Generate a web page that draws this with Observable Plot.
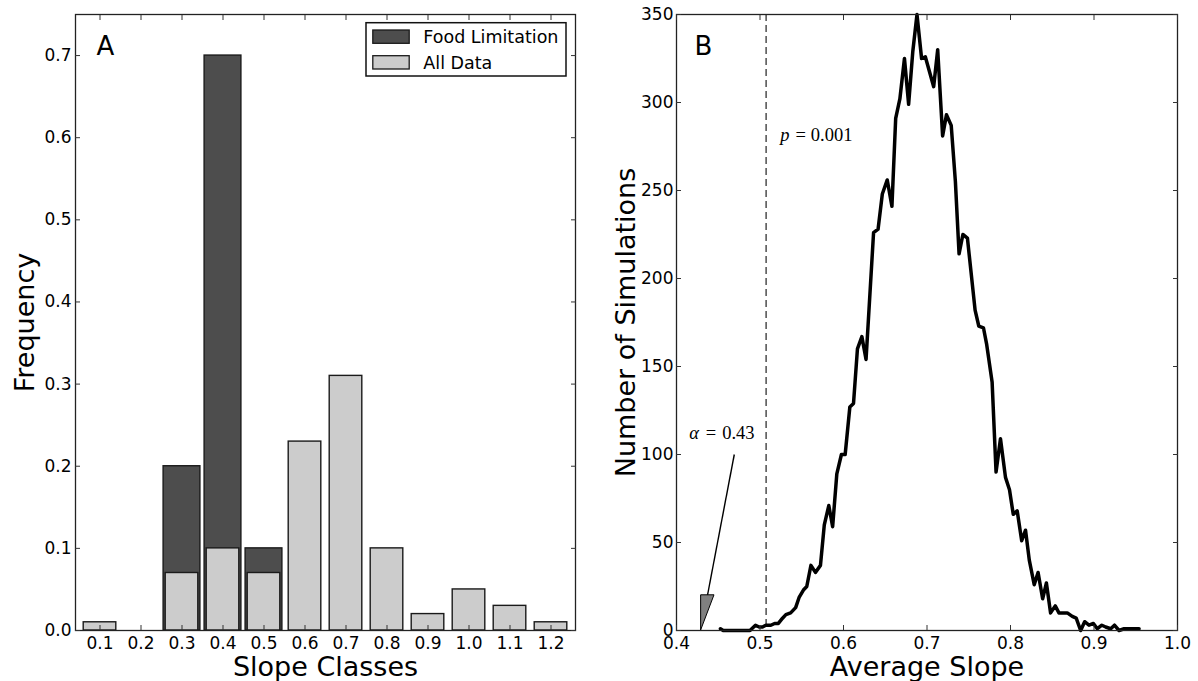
<!DOCTYPE html>
<html>
<head>
<meta charset="utf-8">
<script src="https://cdn.jsdelivr.net/npm/d3@7"></script>
<script src="https://cdn.jsdelivr.net/npm/@observablehq/plot@0.6"></script>
<style>
  html, body { margin: 0; padding: 0; background: #fff; }
  #wrap { position: relative; width: 1198px; height: 681px; display: flex; flex-direction: row; }
  #wrap svg { display: block; }
</style>
</head>
<body>
<div id="wrap"></div>
<script>
// ---------- Panel A data ----------
const slopeClasses = ["0.1","0.2","0.3","0.4","0.5","0.6","0.7","0.8","0.9","1.0","1.1","1.2"];
const allDataFreq = [0.01, 0.00, 0.07, 0.10, 0.07, 0.23, 0.31, 0.10, 0.02, 0.05, 0.03, 0.01];
const foodLimitationFreq = [0, 0, 0.20, 0.70, 0.10, 0, 0, 0, 0, 0, 0, 0];
const freqTicks = [0, 0.1, 0.2, 0.3, 0.4, 0.5, 0.6, 0.7];
const legendLabels = ["Food Limitation", "All Data"];

// ---------- Panel B data ----------
const avgSlope = [0.4526,0.456,0.465,0.475,0.488,0.4946,0.499,0.503,0.507,0.513,0.5175,0.522,0.527,0.531,0.5367,0.5427,0.547,0.552,0.556,0.561,0.5664,0.5724,0.577,0.5824,0.587,0.592,0.5975,0.602,0.6076,0.612,0.6167,0.622,0.627,0.636,0.6414,0.6465,0.6524,0.658,0.6625,0.6675,0.673,0.678,0.683,0.688,0.6935,0.698,0.708,0.7128,0.7187,0.7233,0.729,0.734,0.7384,0.743,0.7484,0.7576,0.762,0.7676,0.7713,0.778,0.7827,0.788,0.794,0.7988,0.8033,0.808,0.8134,0.818,0.8225,0.8284,0.833,0.8385,0.843,0.848,0.8536,0.858,0.8636,0.868,0.874,0.8787,0.884,0.8888,0.894,0.8993,0.904,0.9094,0.914,0.92,0.9245,0.93,0.936,0.9405,0.954];
const numSimulations = [1,0,0,0,0,3,2,2,3,3,4,4,7,9,10,13,19,23,25,37,33,37,60,71,59,89,100,100,127,129,160,167,154,226,228,248,256,241,291,302,325,299,329,350,325,326,309,330,281,293,287,255,214,225,223,182,173,172,163,141,90,109,87,80,66,68,51,57,40,26,33,18,27,10,14,10,10,10,8,7,0,5,3,4,1,3,2,1,3,0,1,1,1];
const slopeTicks = [0.4, 0.5, 0.6, 0.7, 0.8, 0.9, 1.0];
const simTicks = [0, 50, 100, 150, 200, 250, 300, 350];
const pValueSlope = 0.5073;              // dashed line
const pLabel = {x: 0.5242, y: 278};      // "p = 0.001"
const alphaLabel = {x: 0.4152, y: 109};  // "α = 0.43"
const arrowSeg = [{x1: 0.4692, y1: 100, x2: 0.4371, y2: 20}];
const arrowHead = [{y: 0, x1: 0.4295, x2: 0.4295}, {y: 20, x1: 0.4295, x2: 0.4455}];

const SANS = "DejaVu Sans";
const SERIF = "Liberation Serif";
const TICK_FS = 17;
const LABEL_FS = 27;
const fmt1 = d3.format(".1f");

// ---------- Panel A ----------
const foodBars = slopeClasses.map((c, i) => ({cls: c, v: foodLimitationFreq[i]})).filter(d => d.v > 0);
const allBars = slopeClasses.map((c, i) => ({cls: c, v: allDataFreq[i]})).filter(d => d.v > 0);

const left = Plot.plot({
  width: 600, height: 681,
  marginTop: 14, marginBottom: 51, marginLeft: 75, marginRight: 25,
  style: {fontFamily: SANS, fontSize: "17px", color: "#000", background: "#fff", overflow: "visible"},
  x: {type: "band", domain: slopeClasses, padding: 0},
  y: {domain: [0, 0.75]},
  marks: [
    Plot.barY(foodBars, {x: "cls", y: "v", fill: "#4d4d4d", stroke: "#1a1a1a", strokeWidth: 1.4, insetLeft: 2.1, insetRight: 2.1}),
    Plot.barY(allBars, {x: "cls", y: "v", fill: "#cccccc", stroke: "#1a1a1a", strokeWidth: 1.4, insetLeft: 4.2, insetRight: 4.2}),
    Plot.frame({stroke: "#222", strokeWidth: 1.3}),
    Plot.axisX({anchor: "bottom", tickSize: -5, tickPadding: 11, label: null, stroke: "#333", fontSize: TICK_FS}),
    Plot.axisX({anchor: "top", tickSize: -5, tickFormat: () => "", label: null, stroke: "#333"}),
    Plot.axisY({anchor: "left", ticks: freqTicks, tickFormat: fmt1, tickSize: -5, tickPadding: 9, label: null, stroke: "#333", fontSize: TICK_FS}),
    Plot.axisY({anchor: "right", ticks: freqTicks, tickFormat: () => "", tickSize: -5, label: null, stroke: "#333"}),
    Plot.text([{t: "Slope Classes"}], {text: "t", frameAnchor: "bottom", dy: 45, lineAnchor: "bottom", textAnchor: "middle", fontSize: LABEL_FS, fill: "#000"}),
    Plot.text([{t: "Frequency"}], {text: "t", frameAnchor: "left", dx: -42, rotate: -90, lineAnchor: "bottom", textAnchor: "middle", fontSize: LABEL_FS, fill: "#000"}),
    Plot.text([{t: "A"}], {text: "t", frameAnchor: "top-left", dx: 21, dy: 22.5, lineAnchor: "top", textAnchor: "start", fontSize: 26, fill: "#000"})
  ]
});

// legend for panel A
{
  const g = d3.select(left).append("g")
    .attr("font-family", SANS).attr("font-size", "17.5px").attr("text-anchor", "start");
  g.append("rect").attr("x", 366).attr("y", 22.7).attr("width", 200).attr("height", 53.3)
    .attr("fill", "#fff").attr("stroke", "#111").attr("stroke-width", 1.5);
  const fills = ["#4d4d4d", "#cccccc"];
  legendLabels.forEach((lab, i) => {
    g.append("rect").attr("x", 372.8).attr("y", 30 + i * 25.7).attr("width", 36.4).attr("height", 13.3)
      .attr("fill", fills[i]).attr("stroke", "#1a1a1a").attr("stroke-width", 1.3);
    g.append("text").attr("x", 423.3).attr("y", 43.3 + i * 25.7).attr("fill", "#000")
      .attr("text-anchor", "start").text(lab);
  });
}

// ---------- Panel B ----------
const curve = avgSlope.map((s, i) => ({s, n: numSimulations[i]}));
const serifText = (d, txt, dx, italic) => Plot.text([d], {
  x: "x", y: "y", text: () => txt, dx, textAnchor: "start", lineAnchor: "bottom",
  fontFamily: SERIF, fontStyle: italic ? "italic" : "normal", fontSize: 18.5, fill: "#000"
});

const right = Plot.plot({
  width: 598, height: 681,
  marginTop: 14, marginBottom: 51, marginLeft: 76, marginRight: 21,
  style: {fontFamily: SANS, fontSize: "17px", color: "#000", background: "#fff", overflow: "visible"},
  x: {domain: [0.4, 1.0]},
  y: {domain: [0, 350]},
  marks: [
    Plot.ruleX([pValueSlope], {stroke: "#222", strokeWidth: 1.2, strokeDasharray: "7,4"}),
    Plot.line(curve, {x: "s", y: "n", stroke: "#000", strokeWidth: 3.5}),
    Plot.link(arrowSeg, {x1: "x1", y1: "y1", x2: "x2", y2: "y2", stroke: "#000", strokeWidth: 1.4}),
    Plot.areaX(arrowHead, {y: "y", x1: "x1", x2: "x2", fill: "#808080", stroke: "#000", strokeWidth: 1}),
    serifText(pLabel, "p", 0, true),
    serifText(pLabel, "=", 15.3, false),
    serifText(pLabel, "0.001", 30.6, false),
    serifText(alphaLabel, "α", 0, true),
    serifText(alphaLabel, "=", 16.5, false),
    serifText(alphaLabel, "0.43", 33, false),
    Plot.frame({stroke: "#222", strokeWidth: 1.3}),
    Plot.axisX({anchor: "bottom", ticks: slopeTicks, tickFormat: fmt1, tickSize: -5, tickPadding: 11, label: null, stroke: "#333", fontSize: TICK_FS}),
    Plot.axisX({anchor: "top", ticks: slopeTicks, tickFormat: () => "", tickSize: -5, label: null, stroke: "#333"}),
    Plot.axisY({anchor: "left", ticks: simTicks, tickFormat: d3.format("d"), tickSize: -5, tickPadding: 8, label: null, stroke: "#333", fontSize: TICK_FS}),
    Plot.axisY({anchor: "right", ticks: simTicks, tickFormat: () => "", tickSize: -5, label: null, stroke: "#333"}),
    Plot.text([{t: "Average Slope"}], {text: "t", frameAnchor: "bottom", dy: 45, lineAnchor: "bottom", textAnchor: "middle", fontSize: LABEL_FS, fill: "#000"}),
    Plot.text([{t: "Number of Simulations"}], {text: "t", frameAnchor: "left", dx: -41.5, rotate: -90, lineAnchor: "bottom", textAnchor: "middle", fontSize: LABEL_FS, fill: "#000"}),
    Plot.text([{t: "B"}], {text: "t", frameAnchor: "top-left", dx: 18, dy: 22.5, lineAnchor: "top", textAnchor: "start", fontSize: 26, fill: "#000"})
  ]
});

const wrap = document.getElementById("wrap");
wrap.appendChild(left);
wrap.appendChild(right);
</script>
</body>
</html>
